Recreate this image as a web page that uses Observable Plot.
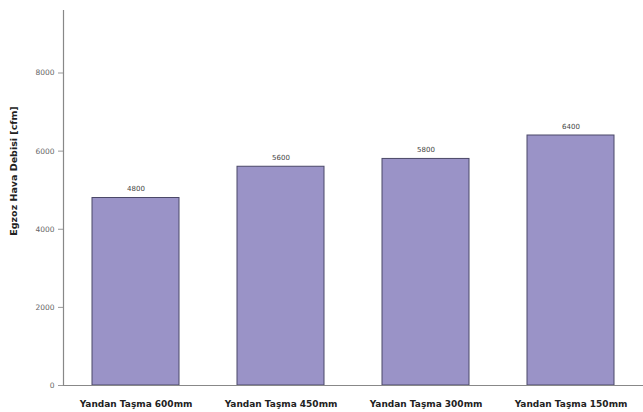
<!DOCTYPE html>
<html>
<head>
<meta charset="utf-8">
<script src="https://cdn.jsdelivr.net/npm/d3@7"></script>
<script src="https://cdn.jsdelivr.net/npm/@observablehq/plot@0.6"></script>
<style>
  html, body { margin: 0; padding: 0; background: #fff; }
  svg { display: block; }
</style>
</head>
<body>
<div id="chart"></div>
<script>
// Exhaust air flow for each side overhang length
const categories = ["Yandan Taşma 600mm", "Yandan Taşma 450mm", "Yandan Taşma 300mm", "Yandan Taşma 150mm"];
const flowValues = [4800, 5600, 5800, 6400];
const yTicks = [0, 2000, 4000, 6000, 8000];
const yTitle = "Egzoz Hava Debisi [cfm]";

const rows = categories.map((c, i) => ({ category: c, value: flowValues[i] }));

const chart = Plot.plot({
  width: 643,
  height: 412,
  marginTop: 10,
  marginLeft: 63,
  marginRight: 0,
  marginBottom: 27,
  style: { fontFamily: "DejaVu Sans, sans-serif", background: "#fff" },
  x: { domain: categories, paddingInner: 0.4, paddingOuter: 0.2, label: null },
  y: { domain: [0, 9600], label: null },
  marks: [
    Plot.barY(rows, {
      x: "category", y: "value",
      fill: "#9a93c7", stroke: "#4b4868", strokeWidth: 1
    }),
    Plot.text(rows, {
      x: "category", y: "value", text: d => String(d.value),
      dy: -9, fontSize: 7, fill: "#444"
    }),
    Plot.axisY({
      ticks: yTicks, tickFormat: "d", tickSize: 5, tickPadding: 4,
      fontSize: 7.5, color: "#666", stroke: "#999"
    }),
    Plot.frame({ anchor: "left", stroke: "#888", strokeWidth: 1.2 }),
    Plot.ruleY([0], { stroke: "#888", strokeWidth: 1.2 }),
    Plot.axisX({
      tickSize: 0, tickPadding: 15, fontSize: 9, fontWeight: "bold", fill: "#222"
    }),
    Plot.text([yTitle], {
      frameAnchor: "left", textAnchor: "middle", rotate: -90, dx: -50, dy: -27,
      fontSize: 9.5, fontWeight: "bold", fill: "#222"
    })
  ]
});

document.getElementById("chart").appendChild(chart);
</script>
</body>
</html>
